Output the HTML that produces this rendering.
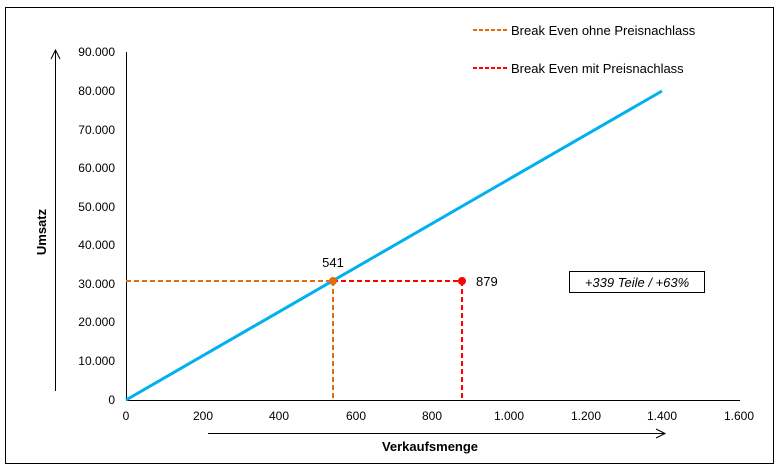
<!DOCTYPE html>
<html><head><meta charset="utf-8"><style>body{margin:0;background:#fff}svg{display:block;font-family:"Liberation Sans",sans-serif}</style></head><body>
<svg width="781" height="470" xmlns="http://www.w3.org/2000/svg">
<rect x="5.5" y="7.5" width="768" height="456" fill="#fff" stroke="#000" stroke-width="1"/>
<g font-size="12" fill="#000" text-anchor="end">
<text x="115" y="56">90.000</text><text x="115" y="95">80.000</text><text x="115" y="134">70.000</text><text x="115" y="172">60.000</text><text x="115" y="211">50.000</text><text x="115" y="249">40.000</text><text x="115" y="288">30.000</text><text x="115" y="326">20.000</text><text x="115" y="365">10.000</text><text x="115" y="404">0</text>
</g>
<g font-size="12" fill="#000" text-anchor="middle">
<text x="126" y="420">0</text><text x="203" y="420">200</text><text x="279" y="420">400</text><text x="356" y="420">600</text><text x="432" y="420">800</text><text x="509" y="420">1.000</text><text x="586" y="420">1.200</text><text x="662" y="420">1.400</text><text x="739" y="420">1.600</text>
</g>
<line x1="126.5" y1="52" x2="126.5" y2="400" stroke="#000"/>
<line x1="126" y1="400.5" x2="740" y2="400.5" stroke="#000"/>
<line x1="126" y1="400" x2="662" y2="91" stroke="#00b0f0" stroke-width="3"/>
<line x1="126" y1="281" x2="333" y2="281" stroke="#e46c0a" stroke-width="2" stroke-dasharray="5,3"/>
<line x1="333" y1="281" x2="333" y2="400" stroke="#e46c0a" stroke-width="2" stroke-dasharray="5,3"/>
<line x1="333" y1="281" x2="462" y2="281" stroke="#ff0000" stroke-width="2" stroke-dasharray="5,3"/>
<line x1="462" y1="281" x2="462" y2="400" stroke="#ff0000" stroke-width="2" stroke-dasharray="5,3"/>
<circle cx="333" cy="281" r="4" fill="#e46c0a"/>
<circle cx="462" cy="281" r="4" fill="#ff0000"/>
<text x="333" y="267" font-size="13" text-anchor="middle">541</text>
<text x="476" y="286" font-size="13">879</text>
<rect x="569.5" y="271.5" width="135" height="21" fill="#fff" stroke="#000"/>
<text x="637" y="287" font-size="13" font-style="italic" text-anchor="middle">+339 Teile / +63%</text>
<line x1="473" y1="30" x2="508" y2="30" stroke="#e46c0a" stroke-width="2" stroke-dasharray="4,2"/>
<text x="511" y="35" font-size="13">Break Even ohne Preisnachlass</text>
<line x1="473" y1="68" x2="508" y2="68" stroke="#ff0000" stroke-width="2" stroke-dasharray="4,2"/>
<text x="511" y="73" font-size="13">Break Even mit Preisnachlass</text>
<line x1="55.5" y1="50" x2="55.5" y2="391" stroke="#000"/>
<polyline points="51,59 55.5,50 60,59" fill="none" stroke="#000"/>
<line x1="208" y1="433.5" x2="665" y2="433.5" stroke="#000"/>
<polyline points="656,429 665,433.5 656,438" fill="none" stroke="#000"/>
<text x="430" y="451" font-size="13" font-weight="bold" text-anchor="middle">Verkaufsmenge</text>
<text x="0" y="0" font-size="13" font-weight="bold" text-anchor="middle" transform="translate(46,232) rotate(-90)">Umsatz</text>
</svg>
</body></html>
